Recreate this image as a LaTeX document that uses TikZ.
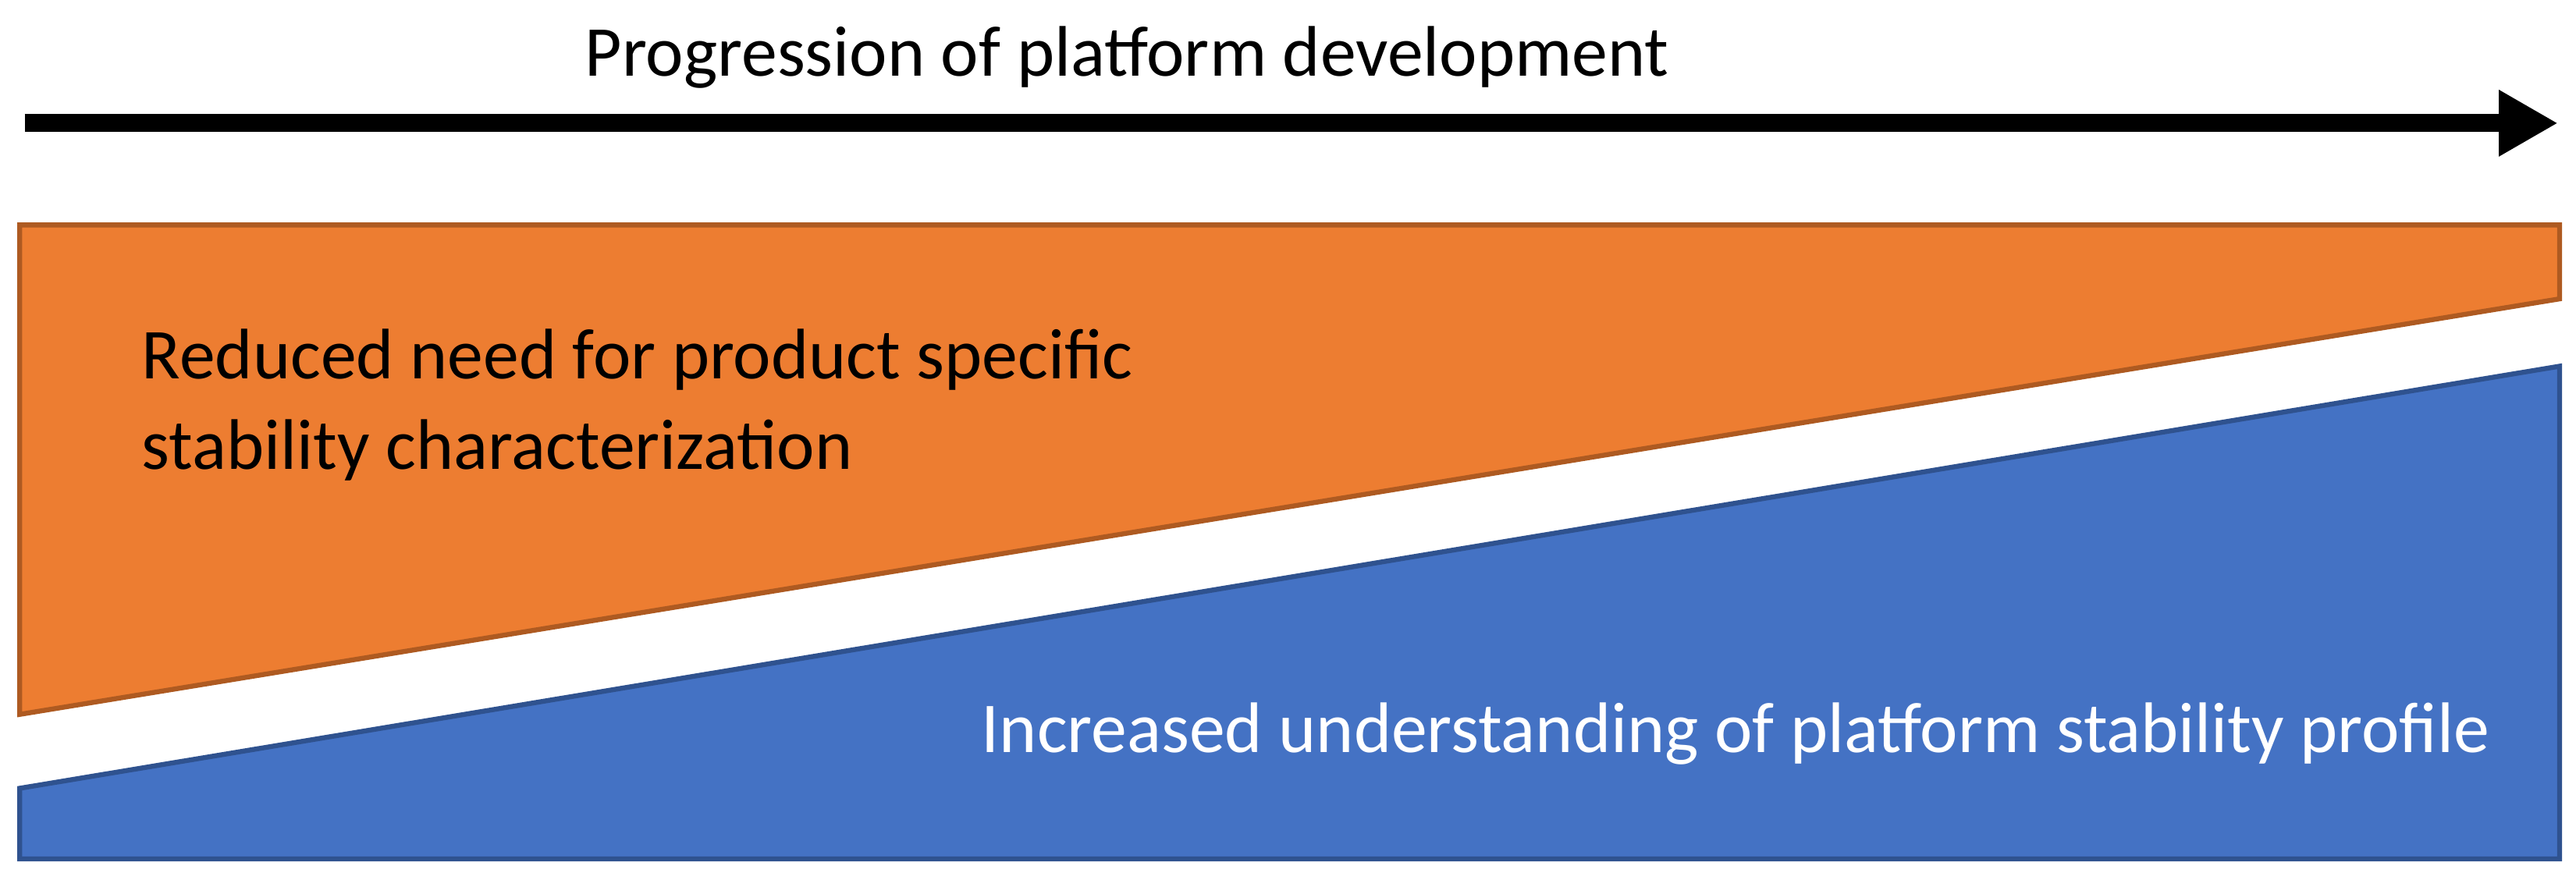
\documentclass[tikz,border=0pt]{standalone}
\usepackage{fontspec}
\setmainfont{Carlito}
\usetikzlibrary{arrows.meta}
\definecolor{wedgeOrange}{RGB}{237,125,49}
\definecolor{wedgeOrangeLine}{RGB}{174,90,33}
\definecolor{wedgeBlue}{RGB}{68,114,196}
\definecolor{wedgeBlueLine}{RGB}{47,82,143}
\begin{document}
\begin{tikzpicture}[x=0.1mm,y=0.1mm,
    wedgeText/.style={font=\fontsize{12.4}{15.6}\selectfont,align=left},
  ]
  \useasboundingbox (0,0) rectangle (1568,540);

  % progression arrow
  \coordinate (arrowStart) at (15,465);
  \coordinate (arrowEnd) at (1557,465);
  \draw[line width=1.1mm,-{Triangle[length=3.6mm,width=3.8mm]}] (arrowStart) -- (arrowEnd);
  \node[wedgeText] (title) at (686,505) {Progression of platform development};

  % wedges
  \draw[fill=wedgeOrange,draw=wedgeOrangeLine,line width=0.3mm]
    (12,403) -- (1558,403) -- (1558,358) -- (12,105) -- cycle;
  \draw[fill=wedgeBlue,draw=wedgeBlueLine,line width=0.3mm]
    (12,60) -- (1558,317) -- (1558,17) -- (12,17) -- cycle;

  \node[wedgeText,anchor=north west] (reduced) at (74,352)
    {Reduced need for product specific\\stability characterization};
  \node[wedgeText,text=white,anchor=east] (increased) at (1528,93)
    {Increased understanding of platform stability profile};
\end{tikzpicture}
\end{document}
